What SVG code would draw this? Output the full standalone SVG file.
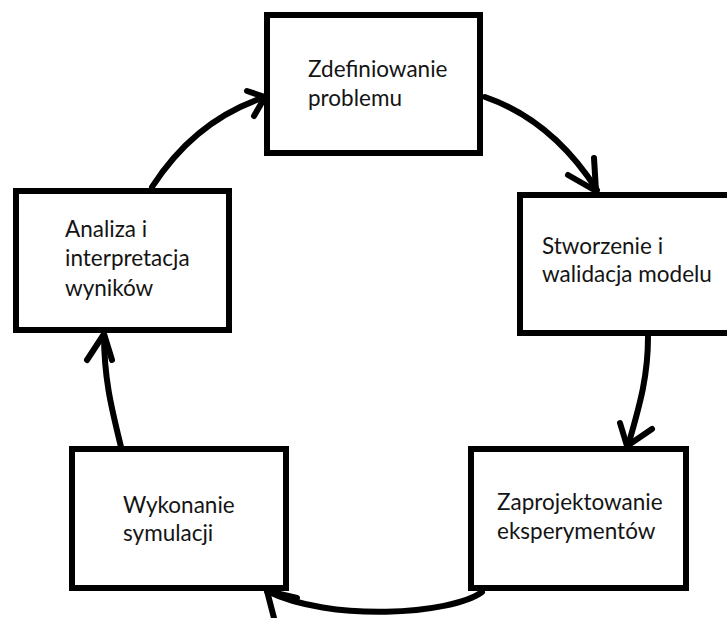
<svg xmlns="http://www.w3.org/2000/svg" width="727" height="618" viewBox="0 0 727 618">
<style>
.box{fill:#fff;stroke:#000;stroke-width:6}
.lbl{font-family:Lato,"Open Sans","Liberation Sans",sans-serif;font-size:22.5px;fill:#141414}
.c{fill:none;stroke:#000;stroke-width:6;stroke-linecap:round;stroke-linejoin:round}
</style>
<rect width="727" height="618" fill="#fff"/>
<g id="connectors">
<path class="c" d="M152,187 Q195,120 265,97"/>
<polyline class="c" points="247,91 265,97 254,116"/>
<path class="c" d="M485,97 Q552,120 597,190"/>
<polyline class="c" points="568,175 596,191 594,158"/>
<path class="c" d="M648,337 C648,380 638,410 628,446"/>
<polyline class="c" points="620,423 627,446 652,429"/>
<path class="c" d="M482,592 C450,615 330,622 267,591"/>
<polyline class="c" points="297,598 267,591 274,618"/>
<path class="c" d="M121,447 C112,410 104,380 104,334"/>
<polyline class="c" points="87,360 104,334 112,360"/>
</g>
<g id="node-zdefiniowanie">
<rect class="box" x="267" y="15" width="213" height="138"/>
<text class="lbl" x="308" y="77">Zdefiniowanie</text>
<text class="lbl" x="308" y="106">problemu</text>
</g>
<g id="node-stworzenie">
<rect class="box" x="520" y="195" width="215" height="138"/>
<text class="lbl" x="542" y="254">Stworzenie i</text>
<text class="lbl" x="542" y="282">walidacja modelu</text>
</g>
<g id="node-zaprojektowanie">
<rect class="box" x="471" y="449" width="215" height="139"/>
<text class="lbl" x="497" y="510">Zaprojektowanie</text>
<text class="lbl" x="497" y="539">eksperymentów</text>
</g>
<g id="node-wykonanie">
<rect class="box" x="72" y="449" width="214" height="139"/>
<text class="lbl" x="123" y="513">Wykonanie</text>
<text class="lbl" x="123" y="541">symulacji</text>
</g>
<g id="node-analiza">
<rect class="box" x="16" y="191" width="213" height="139"/>
<text class="lbl" x="65" y="237">Analiza i</text>
<text class="lbl" x="65" y="266">interpretacja</text>
<text class="lbl" x="65" y="296">wyników</text>
</g>
</svg>
